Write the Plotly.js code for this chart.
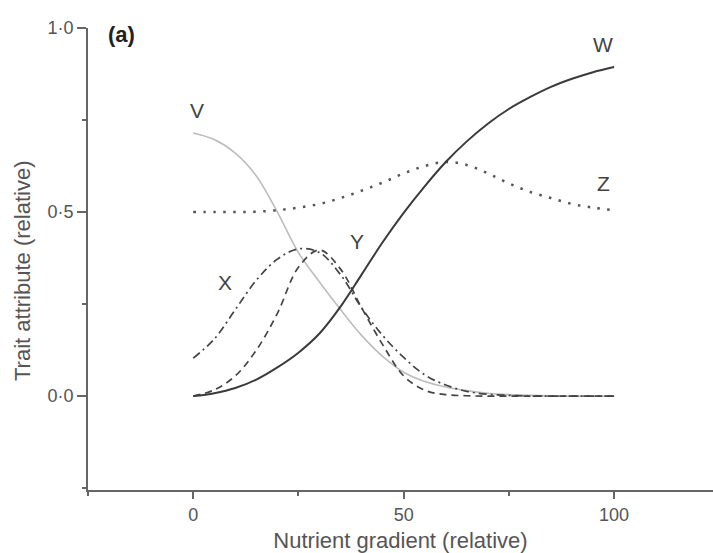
<!DOCTYPE html>
<html>
<head>
<meta charset="utf-8">
<script src="https://cdn.plot.ly/plotly-3.0.1.min.js"></script>
<style>html,body{margin:0;padding:0;background:#fff;}#chart{width:713px;height:553px;}</style>
</head>
<body>
<div id="chart"></div>
<script>
const gradient = [0,5,10,15,20,25,30,35,40,45,50,55,60,65,70,75,80,85,90,95,100];
const seriesV = [0.715,0.697,0.66,0.598,0.5,0.39,0.31,0.235,0.165,0.108,0.065,0.04,0.025,0.015,0.008,0.004,0.002,0.001,0,0,0];
const seriesW = [0,0.008,0.022,0.045,0.078,0.118,0.17,0.243,0.33,0.418,0.498,0.57,0.636,0.692,0.74,0.78,0.812,0.84,0.862,0.88,0.894];
const seriesZ = [0.5,0.5,0.5,0.501,0.505,0.512,0.522,0.538,0.558,0.58,0.605,0.625,0.636,0.628,0.605,0.578,0.555,0.538,0.522,0.512,0.505];
const seriesX = [0.103,0.155,0.235,0.315,0.372,0.4,0.39,0.33,0.24,0.165,0.105,0.058,0.03,0.013,0.005,0.002,0,0,0,0,0];
const seriesY = [0,0.017,0.055,0.125,0.225,0.35,0.397,0.345,0.24,0.14,0.055,0.016,0.004,0.001,0,0,0,0,0,0,0];
const yTickVals = [0, 0.5, 1];
const yTickText = ['0·0', '0·5', '1·0'];
const xTickVals = [0, 50, 100];
const xTickText = ['0', '50', '100'];
const curveLabels = [
  {name:'V', x:1, y:0.775},
  {name:'W', x:97.4, y:0.955},
  {name:'Z', x:97.6, y:0.578},
  {name:'Y', x:39, y:0.42},
  {name:'X', x:7.6, y:0.31}
];
const FONT = 'Liberation Sans, Arial, sans-serif';

function tr(y, color, width, dash) {
  return {x: gradient, y: y, mode:'lines', type:'scatter', line:{color:color, width:width, dash:dash, shape:'spline', smoothing:1}, hoverinfo:'skip', showlegend:false};
}

const data = [
  tr(seriesV, '#bdbdbd', 1.6, 'solid'),
  tr(seriesZ, '#555555', 2.5, '2.5px,7.5px'),
  tr(seriesX, '#444444', 1.7, '8px,4px,2px,4px'),
  tr(seriesY, '#444444', 1.7, '7px,5px'),
  tr(seriesW, '#3a3a3a', 2, 'solid')
];

const annotations = curveLabels.map(l => ({x:l.x, y:l.y, xref:'x', yref:'y', text:l.name, showarrow:false, xanchor:'center', yanchor:'middle', font:{family:FONT, size:21, color:'#444'}}));
annotations.push({x:0.054, y:0.987, xref:'paper', yref:'paper', text:'<b>(a)</b>', showarrow:false, xanchor:'center', yanchor:'middle', font:{family:FONT, size:22, color:'#222'}});
annotations.push({x:-0.1056, y:0.474, xref:'paper', yref:'paper', text:'Trait attribute (relative)', textangle:-90, showarrow:false, xanchor:'center', yanchor:'middle', font:{family:FONT, size:22, color:'#555'}});

const layout = {
  width:713, height:553,
  margin:{l:88, r:0, t:28, b:63},
  paper_bgcolor:'#fff', plot_bgcolor:'#fff',
  font:{family:FONT, color:'#555'},
  xaxis:{range:[-25,123.5], showgrid:false, zeroline:false, showline:true, linecolor:'#666', linewidth:2,
    ticks:'outside', ticklen:7, tickwidth:2, tickcolor:'#666', tickvals:xTickVals, ticktext:xTickText,
    tickfont:{family:FONT, size:18, color:'#555'},
    minor:{tickvals:[-25,25,75], ticks:'outside', ticklen:4, tickwidth:2, tickcolor:'#666'},
    title:{text:'Nutrient gradient (relative)', font:{family:FONT, size:22, color:'#555'}, standoff:9}},
  yaxis:{range:[-0.255,1.0], showgrid:false, zeroline:false, showline:true, linecolor:'#666', linewidth:2,
    ticks:'outside', ticklen:9, tickwidth:2, tickcolor:'#666', tickvals:yTickVals, ticktext:yTickText,
    tickfont:{family:FONT, size:18, color:'#555'},
    minor:{tickvals:[-0.25,0.25,0.75], ticks:'outside', ticklen:4, tickwidth:2, tickcolor:'#666'}},
  annotations: annotations
};

Plotly.newPlot('chart', data, layout, {displayModeBar:false, staticPlot:true});
</script>
</body>
</html>
